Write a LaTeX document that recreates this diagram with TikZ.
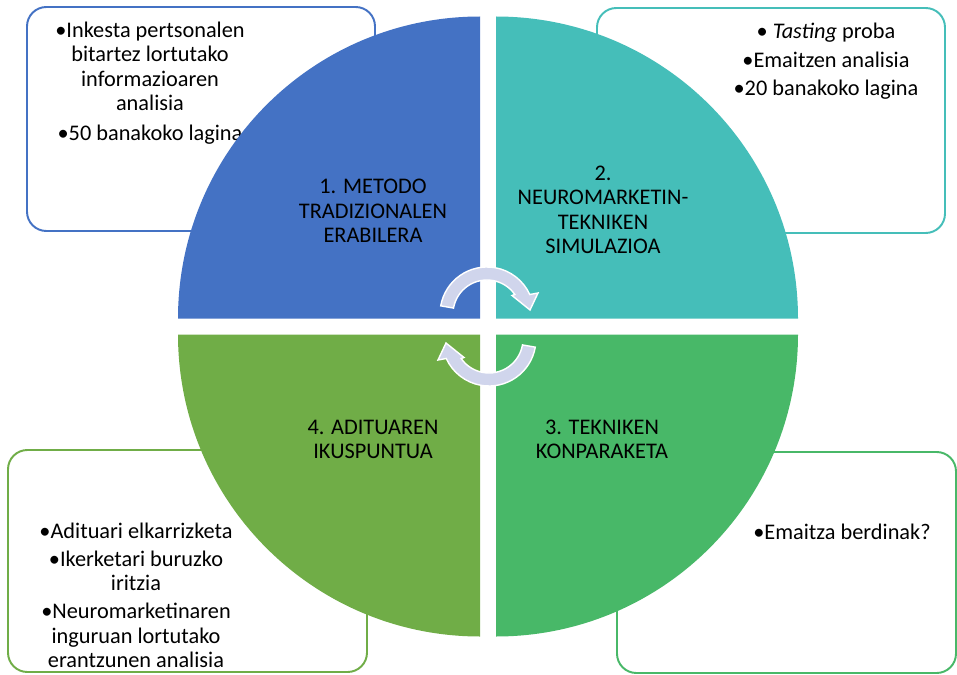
\documentclass[tikz,border=0pt]{standalone}
\usepackage{fontspec}
\setmainfont{Carlito}
\usetikzlibrary{positioning}

\definecolor{quadblue}{RGB}{68,114,196}
\definecolor{quadteal}{RGB}{69,190,185}
\definecolor{quadgreen}{RGB}{72,184,104}
\definecolor{quadolive}{RGB}{112,173,71}
\definecolor{cyclefill}{RGB}{208,213,236}

\begin{document}
\begin{tikzpicture}[x=0.02cm, y=0.02cm,
    every node/.style={font=\fontsize{12.7}{13.9}\selectfont, align=center, inner sep=0pt},
    infobox/.style={rounded corners=11pt, line width=1.1pt, fill=white},
    cyclearrow/.style={fill=cyclefill, draw=white, line width=0.8pt}]
	\useasboundingbox (0,0) rectangle (957,674);

	% side boxes
	\draw[infobox, draw=quadblue] (27,443) rectangle (375,667);
	\draw[infobox, draw=quadteal] (597,441) rectangle (945,666);
	\draw[infobox, draw=quadolive] (8,2) rectangle (367,224);
	\draw[infobox, draw=quadgreen] (617,1) rectangle (956,222);

	\node (inkesta) at (150,591) {•Inkesta pertsonalen\\ bitartez lortutako\\ informazioaren\\ analisia\\[3pt] •50 banakoko lagina};
	\node (tasting) at (826,612.5) {• \textit{Tasting} proba\\[2.3pt] •Emaitzen analisia\\[2.3pt] •20 banakoko lagina};
	\node (adituari) at (136,78.5) {•Adituari elkarrizketa\\[2pt] •Ikerketari buruzko\\ iritzia\\[2pt] •Neuromarketinaren\\ inguruan lortutako\\ erantzunen analisia};
	\node (emaitza) at (842,142) {•Emaitza berdinak?};

	% four quarters
	\fill[quadblue] (480,355.5) -- ++(-302,0) arc (180:90:302) -- cycle;
	\fill[quadteal] (496,355.5) -- ++(0,302) arc (90:0:302) -- cycle;
	\fill[quadgreen] (496,339.5) -- ++(302,0) arc (0:-90:302) -- cycle;
	\fill[quadolive] (480,339.5) -- ++(0,-302) arc (270:180:302) -- cycle;

	\node (metodo) at (373,463) {1. METODO\\ TRADIZIONALEN\\ ERABILERA};
	\node (simulazioa) at (603,464) {2.\\ NEUROMARKETIN-\\ TEKNIKEN\\ SIMULAZIOA};
	\node (konparaketa) at (602,234.5) {3. TEKNIKEN\\ KONPARAKETA};
	\node (ikuspuntua) at (373,234.5) {4. ADITUAREN\\ IKUSPUNTUA};

	% cycle arrows
	\begin{scope}[shift={(487,360)}]
		\draw[cyclearrow] (170:47) arc (170:24.5:47) -- (51,21) -- (43,4) -- (25,18.5) -- (35:34) arc (35:170:34) -- cycle;
	\end{scope}
	\begin{scope}[shift={(489,335)}, rotate=180]
		\draw[cyclearrow] (170:47) arc (170:24.5:47) -- (51,21) -- (43,4) -- (25,18.5) -- (35:34) arc (35:170:34) -- cycle;
	\end{scope}
\end{tikzpicture}
\end{document}
